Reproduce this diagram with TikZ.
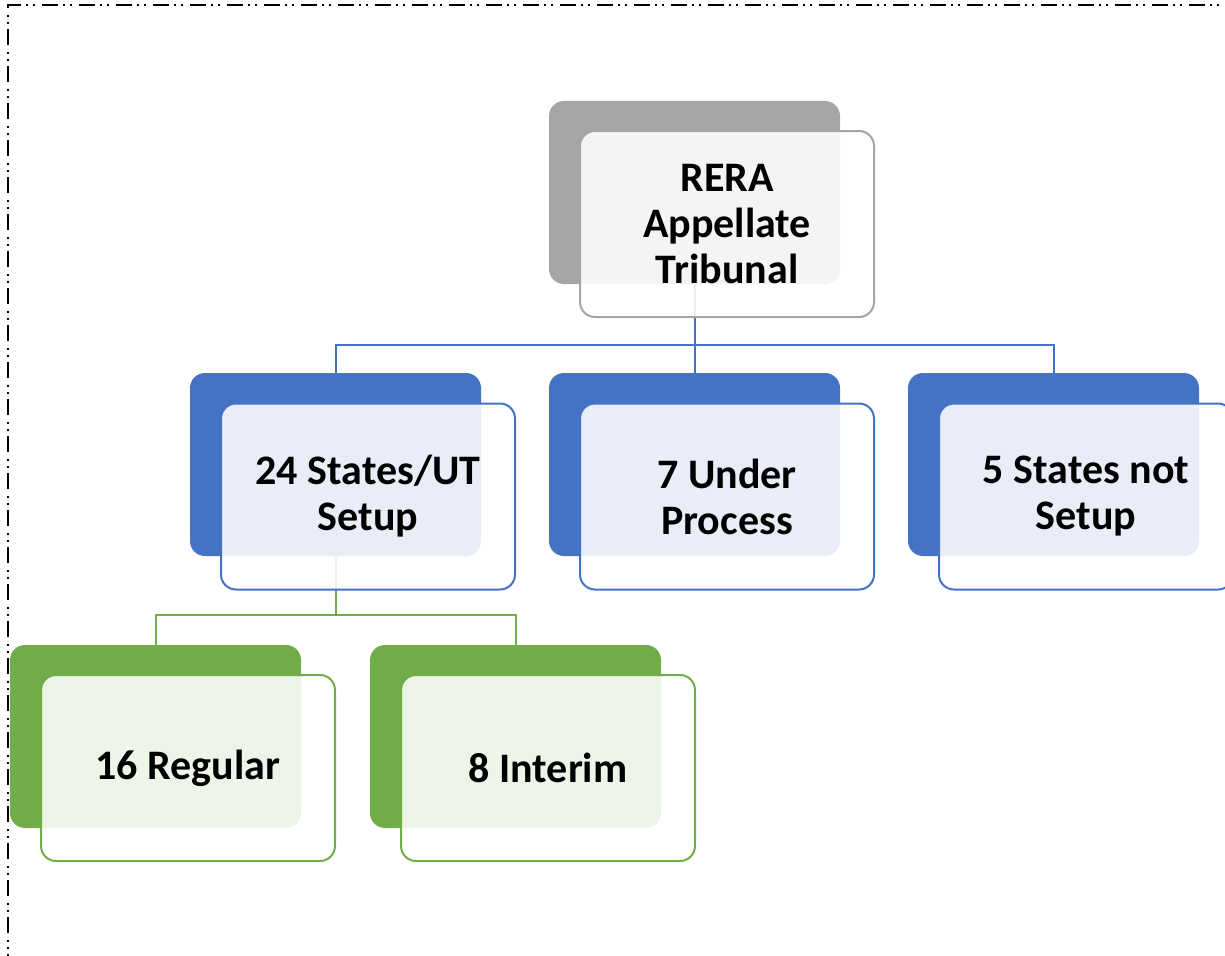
\documentclass[tikz,border=0pt]{standalone}
\usepackage{fontspec}
\setmainfont{Carlito}
\definecolor{ggray}{HTML}{A5A5A5}
\definecolor{gblue}{HTML}{4472C4}
\definecolor{ggreen}{HTML}{70AD47}
\tikzset{
  backbox/.style={rectangle, rounded corners=15pt, minimum width=291pt, minimum height=183pt, inner sep=0pt, outer sep=0pt, fill=#1, draw=none},
  frontbox/.style={rectangle, rounded corners=15pt, minimum width=294pt, minimum height=186pt, inner sep=0pt, outer sep=0pt, draw=#1, line width=2pt, fill=white, fill opacity=0.88, text opacity=1, align=center, font=\fontsize{42}{46}\selectfont\bfseries},
  conn/.style={draw=#1, line width=2pt},
  frame/.style={line width=2pt, dash pattern=on 16pt off 5pt on 2pt off 5pt on 2pt off 7pt}
}
\begin{document}
\begin{tikzpicture}[x=1pt,y=-1pt]
\useasboundingbox (0,0) rectangle (1225,955);
\clip (0,0) rectangle (1225,955);
\draw[frame] (8,970) -- (8,5) -- (1240,5);
% back boxes
\node[backbox=ggray] (rb) at (694.5,192.5) {};
\node[backbox=gblue] (c1b) at (335.5,464.5) {};
\node[backbox=gblue] (c2b) at (694.5,464.5) {};
\node[backbox=gblue] (c3b) at (1053.5,464.5) {};
\node[backbox=ggreen] (g1b) at (155.5,736.5) {};
\node[backbox=ggreen] (g2b) at (515.5,736.5) {};
% connectors
\coordinate (j1) at (694.5,345);
\coordinate (j2) at (335.5,615);
\draw[conn=gblue] (rb.south) -- (j1);
\draw[conn=gblue] (j1) -| (c1b.north);
\draw[conn=gblue] (j1) -- (c2b.north);
\draw[conn=gblue] (j1) -| (c3b.north);
\draw[conn=ggreen] (c1b.south) -- (j2);
\draw[conn=ggreen] (j2) -| (g1b.north);
\draw[conn=ggreen] (j2) -| (g2b.north);
% front boxes
\node[frontbox=ggray] (rf) at (727,224) {RERA\\Appellate\\Tribunal};
\node[frontbox=gblue] (c1f) at (368,496.5) {24 States/UT\\Setup};
\node[frontbox=gblue] (c2f) at (727,496.5) {7 Under\\Process};
\node[frontbox=gblue] (c3f) at (1086,496.5) {5 States not\\Setup};
\node[frontbox=ggreen] (g1f) at (188,768) {16 Regular};
\node[frontbox=ggreen] (g2f) at (548,768) {8 Interim};
\end{tikzpicture}
\end{document}
